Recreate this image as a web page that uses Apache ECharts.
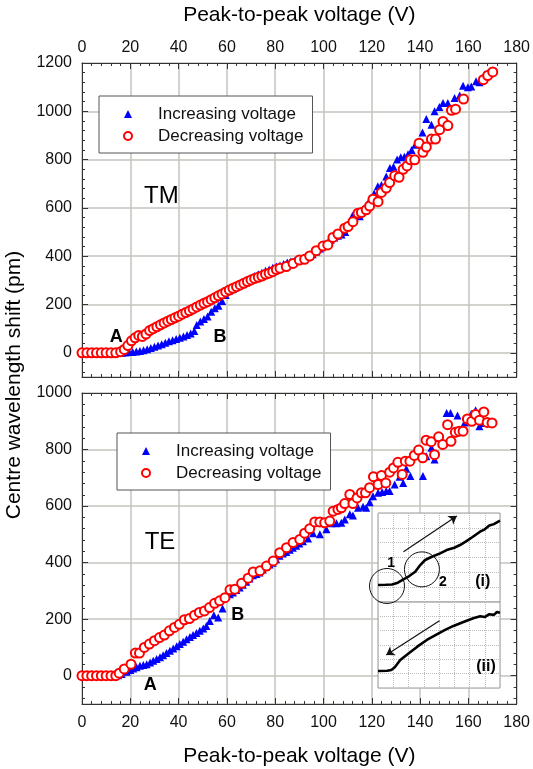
<!DOCTYPE html>
<html>
<head>
<meta charset="utf-8">
<script src="https://cdn.jsdelivr.net/npm/echarts@6/dist/echarts.min.js"></script>
<style>
  html, body { margin: 0; padding: 0; background: #fff; }
  #js-chart { width: 533px; height: 769px; }
</style>
</head>
<body>
<div id="js-chart"></div>
<script>
// voltage (V), centre wavelength shift (pm)
var tmUp = [[0,0],[1.5,3],[3,5],[4.5,3],[6,4],[7.5,2],[9,3],[10.5,2],[12,2],[13.5,1],[15,0],[16.5,0],[18,1],[19.5,3],
  [21,4],[22.5,6],[24,8],[25.5,11],[27,15],[28.5,20],[30,25],[31.5,30],[33,36],[34.5,42],[36,48],[37.5,52],[39,57],
  [40.5,62],[42,68],[43.5,74],[45,80],[46.5,90],[47.5,115],[49,130],[50.5,140],[52,150],[53.5,170],[55,185],[56.5,195],
  [58,215],[59.5,240],[61,258],[62.5,265],[64,275],[65.5,282],[67,292],[68.5,300],[70,310],[71.5,318],[73,325],
  [74.5,332],[76,340],[77.5,345],[79,352],[80.5,358],[82,362],[83.5,368],[85,374],[86.5,378],[88,380],[89.5,385],
  [91,390],[92.5,397],[94,402],[95.5,408],[97,420],[98.5,432],[100,442],[101.5,455],[103,468],[104.5,478],[106,485],
  [107.5,490],[109,500],[110.5,530],[112,568],[113.5,570],[115,566],[116.5,590],[118,612],[119.5,640],[121,660],
  [122.5,690],[124,695],[126,730],[127.5,765],[129,770],[130.5,800],[132,810],[133.5,812],[135,822],[136.5,840],
  [138,862],[139.5,870],[141,912],[142.6,968],[144.7,944],[146,1000],[148,1018],[149.5,1034],[151.5,1034],[153,1006],
  [154.3,1055],[156.4,1065],[157.8,1106],[159.8,1100],[161.2,1103],[163.2,1124],[164.6,1120],[166.7,1152],[168,1158]];
var tmDown = [[0,0],[2,0],[4,0],[6,0],[8,0],[10,0],[12,0],[14,0],[16,5],[17.5,14],[19,30],[20.5,50],[22,62],[23.5,72],
  [25,68],[26.5,78],[28,92],[29.5,100],[31,108],[32.5,116],[34,124],[35.5,131],[37,138],[38.5,145],[40,152],[41.5,160],
  [43,167],[44.5,174],[46,182],[47.5,190],[49,198],[50.5,205],[52,212],[53.5,220],[55,228],[56.5,236],[58,244],
  [59.5,252],[61,260],[62.5,267],[64,274],[65.5,281],[67,288],[68.5,295],[70,302],[71.5,308],[73,313],[74.5,318],
  [76,325],[77.5,330],[79,336],[80.5,345],[82,350],[84.6,357],[87.4,370],[90,384],[92.2,387],[94.3,401],[97,423],
  [99.8,442],[101.8,447],[103.9,478],[106,492],[108.8,516],[110.2,523],[112.2,543],[114.3,578],[115.7,581],[117.7,592],
  [119.1,608],[120.5,636],[122.6,626],[124,664],[126,682],[127.4,705],[129.5,733],[131.3,727],[133,760],[134.6,774],
  [136,799],[137.8,799],[139.6,868],[141.2,830],[142.6,852],[144.7,885],[146.4,885],[148.1,924],[149.5,958],
  [151.5,941],[153,1004],[154.7,1009],[158,1051],[166.2,1131],[168,1148],[170.1,1163]];
var teUp = [[0,0],[1.5,0],[3,0],[4.5,0],[6,0],[7.5,0],[9,0],[10.5,0],[12,0],[13.5,0],[15,2],[16.4,6],[18.5,14],[20,20],
  [21.2,26],[22.6,30],[24,35],[25.4,38],[26.8,41],[28.2,47],[29.5,53],[30.9,59],[32.3,65],[33.6,72],[35,80],[36.4,88],
  [37.8,96],[39.2,104],[40.5,112],[41.9,120],[43.3,129],[44.7,137],[46,144],[47.4,151],[48.8,159],[50.2,167],[51.5,176],
  [52.9,194],[54.6,214],[56.4,206],[58.2,238],[59.8,282],[61.2,288],[62.5,294],[63.9,303],[65.3,312],[66.6,322],
  [68,332],[69.4,344],[70.8,355],[72.2,360],[73.5,365],[74.9,376],[76.3,386],[77.7,393],[79,400],[80.4,412],[81.8,424],
  [83.2,432],[84.6,438],[86,446],[87.3,453],[88.7,460],[90,468],[91.5,476],[93.6,485],[95.7,504],[98.5,500],[101.2,518],
  [103.3,539],[105.4,539],[107.4,541],[108.8,553],[110.9,571],[112.2,567],[114.3,594],[116.4,598],[117.7,594],
  [119.1,614],[120.5,635],[122.6,647],[124.3,650],[126,653],[127.4,653],[129.5,676],[131.5,704],[133,682],[134.3,732],
  [136,706],[137.8,779],[141.2,706],[142.6,776],[144.7,806],[146,765],[148.1,841],[151,929],[152.6,929],[155.5,920],
  [158.5,896],[161.2,927],[163,939],[164.6,882],[166,894],[167.4,894],[169.4,896]];
var teDown = [[0,0],[2,0],[4,0],[6,0],[8,0],[10,0],[12,0],[14,0],[15.4,9],[17.5,24],[20.3,41],[22.1,80],[23.8,80],
  [25.8,100],[27.9,112],[30,124],[32.1,135],[34.1,144],[36.2,159],[38.3,171],[40.3,182],[42.4,198],[44.5,202],
  [46.6,214],[48.6,224],[50.7,229],[52.8,241],[54.9,256],[57,265],[59.2,276],[61.3,304],[63.3,306],[66.1,327],
  [68.8,345],[70.9,367],[73.7,371],[76.4,388],[79.2,406],[81.9,435],[84.7,453],[87.4,471],[90.2,482],[92.2,504],
  [94.3,520],[96.4,544],[98.5,544],[100.5,541],[102.6,547],[104,582],[106,588],[107.4,594],[108.8,609],[110.9,641],
  [112.2,609],[113.9,629],[115.7,647],[117.4,647],[119.1,665],[120.7,704],[122.6,676],[124,708],[125.8,682],[127.4,720],
  [129,735],[130.8,755],[132.6,712],[133.9,759],[135.8,759],[137.6,779],[139.4,798],[141.1,771],[142.5,833],
  [144.6,828],[146,782],[147.7,845],[149.4,818],[151.4,888],[152.8,829],[154.6,861],[156.2,865],[157.8,865],
  [159.6,908],[161.4,900],[163,924],[164.6,904],[166.4,933],[167.8,896],[169.8,894]];

// labels written on the panels: [text, V, pm]
var tmNotes = [['TM', 32.9, 649], ['A', 14.2, 66], ['B', 57.2, 66]];
var teNotes = [['TE', 32.3, 471], ['A', 28.3, -33], ['B', 64.5, 215]];

// inset sketches (arbitrary units)
var insetUp = [[0,1.15],[0.5,1.16],[0.92,1.18],[1.3,1.3],[1.67,1.53],[2.05,1.75],[2.44,2.04],[2.77,2.49],[3.09,2.83],
  [3.53,3.05],[4.07,3.28],[4.5,3.5],[5.0,3.66],[5.38,3.84],[5.8,4.1],[6.2,4.38],[6.69,4.74],[7.0,4.9],[7.3,5.15],
  [7.6,5.25],[8.0,5.48]];
var insetDown = [[0,1.19],[0.6,1.2],[0.87,1.25],[1.1,1.45],[1.46,1.95],[2.0,2.4],[2.6,2.9],[3.2,3.35],[3.8,3.7],
  [4.4,4.05],[4.95,4.33],[5.6,4.6],[6.25,4.86],[6.7,5.0],[7.0,4.95],[7.3,5.15],[7.6,5.1],[7.8,5.3],[8.0,5.25]];
var insetCircles = [[0.59,1.08],[2.88,2.2]];
var insetUpNotes = [['1', 0.87, 2.65], ['2', 4.25, 1.37], ['(i)', 6.87, 1.37]];
var insetDownNotes = [['(ii)', 7.08, 1.49]];
var insetUpArrow = [[1.67,3.39],[5.17,5.8]];
var insetDownArrow = [[4.03,4.7],[0.54,2.3]];

var FONT = '"Liberation Sans", Arial, sans-serif';
var AXIS_COLOR = '#333';
var GRID_COLOR = '#c4c4be';

function mainAxis(type, gridIndex, position, min, max, showLabel, showSplit) {
	var axis = {
		type: 'value',
		gridIndex: gridIndex,
		position: position,
		min: min,
		max: max,
		axisLine: { show: true, onZero: false, lineStyle: { color: AXIS_COLOR, width: 1 } },
		axisTick: { show: true, inside: true, length: 6, lineStyle: { color: AXIS_COLOR } },
		minorTick: { show: true, splitNumber: 5, length: 3, lineStyle: { color: AXIS_COLOR } },
		axisLabel: {
			show: showLabel, fontSize: 16, fontFamily: FONT, color: '#111',
			margin: type === 'x' ? (position === 'top' ? 7 : 11) : 10,
			formatter: function (v) { return v < 0 ? '' : v; }
		},
		splitLine: { show: showSplit, lineStyle: { color: GRID_COLOR, width: 1.5 } }
	};
	if (type === 'x') axis.interval = 20;
	else axis.splitNumber = max > 1000 ? 7 : 6;
	return axis;
}

function insetAxis(gridIndex, max) {
	return {
		type: 'value', gridIndex: gridIndex, min: 0, max: max, interval: 1, z: 4,
		axisLine: { show: false }, axisTick: { show: false }, axisLabel: { show: false },
		splitLine: { show: true, lineStyle: { color: '#bdbdbd', width: 1, type: 'dotted' } }
	};
}

function notes(list, xi, yi, z) {
	return {
		type: 'scatter', xAxisIndex: xi, yAxisIndex: yi, symbolSize: 0, silent: true, z: z || 3, clip: false,
		itemStyle: { opacity: 1 },
		data: list.map(function (n) {
			var big = n[0] === 'TM' || n[0] === 'TE';
			var inset = xi >= 4;
			return {
				name: n[0], value: [n[1], n[2]],
				label: {
					show: true, position: 'inside', formatter: '{b}', color: '#000', fontFamily: FONT,
					fontSize: big ? 24 : (inset ? (n[0].length > 1 ? 16 : 14) : 18),
					fontWeight: big ? 'normal' : 'bold'
				}
			};
		})
	};
}

function markers(name, data, xi, yi, up) {
	return {
		name: name, type: 'scatter', xAxisIndex: xi, yAxisIndex: yi, data: data,
		symbol: up ? 'triangle' : 'emptyCircle',
		symbolSize: up ? 8 : 9,
		itemStyle: up ? { color: '#0000ff', opacity: 1 } : { color: '#ff0000', borderWidth: 1.8, opacity: 1 },
		z: up ? 2 : 3
	};
}

function legendAt(left, top) {
	return {
		orient: 'vertical', left: left, top: top, selectedMode: false,
		data: ['Increasing voltage', 'Decreasing voltage'],
		padding: [8, 9, 7, 24], itemWidth: 8, itemHeight: 8, itemGap: 2,
		borderColor: '#555', borderWidth: 1, backgroundColor: '#fff',
		textStyle: { fontSize: 17, fontFamily: FONT, color: '#111', lineHeight: 20, padding: [0, 0, 0, 21] }
	};
}

function arrowLine(data) {
	return {
		silent: true, symbol: ['none', 'arrow'], symbolSize: 8,
		lineStyle: { color: '#111', width: 1.2, type: 'solid', opacity: 1 },
		itemStyle: { color: '#111' },
		label: { show: false },
		data: [[{ coord: data[0] }, { coord: data[1] }]]
	};
}

var chart = echarts.init(document.getElementById('js-chart'));
var option = {
	animation: false,
	backgroundColor: '#fff',
	grid: [
		{ left: 82, top: 63, width: 435, height: 314 },
		{ left: 82, top: 393, width: 435, height: 311 },
		{ left: 378, top: 513, width: 122, height: 89, show: true, backgroundColor: '#fff', borderColor: '#9a9a9a', borderWidth: 1, z: 3 },
		{ left: 378, top: 602, width: 122, height: 86, show: true, backgroundColor: '#fff', borderColor: '#9a9a9a', borderWidth: 1, z: 3 }
	],
	legend: [legendAt(99, 96), legendAt(117, 433)],
	xAxis: [
		Object.assign(mainAxis('x', 0, 'top', 0, 180, true, true), {
			name: 'Peak-to-peak voltage (V)', nameLocation: 'middle', nameGap: 37,
			nameTextStyle: { fontSize: 21, fontFamily: FONT, color: '#000' }
		}),
		mainAxis('x', 0, 'bottom', 0, 180, false, false),
		Object.assign(mainAxis('x', 1, 'bottom', 0, 180, true, true), {
			name: 'Peak-to-peak voltage (V)', nameLocation: 'middle', nameGap: 42,
			nameTextStyle: { fontSize: 21, fontFamily: FONT, color: '#000' }
		}),
		mainAxis('x', 1, 'top', 0, 180, false, false),
		insetAxis(2, 8),
		insetAxis(3, 8)
	],
	yAxis: [
		mainAxis('y', 0, 'left', -100, 1200, true, true),
		mainAxis('y', 0, 'right', -100, 1200, false, false),
		mainAxis('y', 1, 'left', -100, 1000, true, true),
		mainAxis('y', 1, 'right', -100, 1000, false, false),
		insetAxis(2, 6),
		insetAxis(3, 6)
	],
	graphic: [{
		type: 'text', x: 14, y: 385, rotation: Math.PI / 2,
		style: { text: 'Centre wavelength shift (pm)', fontSize: 21, fontFamily: FONT, fill: '#000', align: 'center', verticalAlign: 'middle' }
	}],
	series: [
		markers('Increasing voltage', tmUp, 0, 0, true),
		markers('Decreasing voltage', tmDown, 0, 0, false),
		markers('Increasing voltage', teUp, 2, 2, true),
		markers('Decreasing voltage', teDown, 2, 2, false),
		notes(tmNotes, 0, 0),
		notes(teNotes, 2, 2),
		{
			type: 'line', xAxisIndex: 4, yAxisIndex: 4, data: insetUp, showSymbol: false, z: 6, silent: true,
			lineStyle: { color: '#000', width: 2.6 }, markLine: arrowLine(insetUpArrow)
		},
		{
			type: 'scatter', xAxisIndex: 4, yAxisIndex: 4, data: insetCircles, symbol: 'circle', symbolSize: 35,
			clip: false, silent: true, z: 7,
			itemStyle: { color: 'rgba(0,0,0,0)', borderColor: '#111', borderWidth: 1, opacity: 1 }
		},
		{
			type: 'line', xAxisIndex: 5, yAxisIndex: 5, data: insetDown, showSymbol: false, z: 6, silent: true,
			lineStyle: { color: '#000', width: 2.6 }, markLine: arrowLine(insetDownArrow)
		},
		notes(insetUpNotes, 4, 4, 8),
		notes(insetDownNotes, 5, 5, 8)
	]
};
chart.setOption(option);
</script>
</body>
</html>
